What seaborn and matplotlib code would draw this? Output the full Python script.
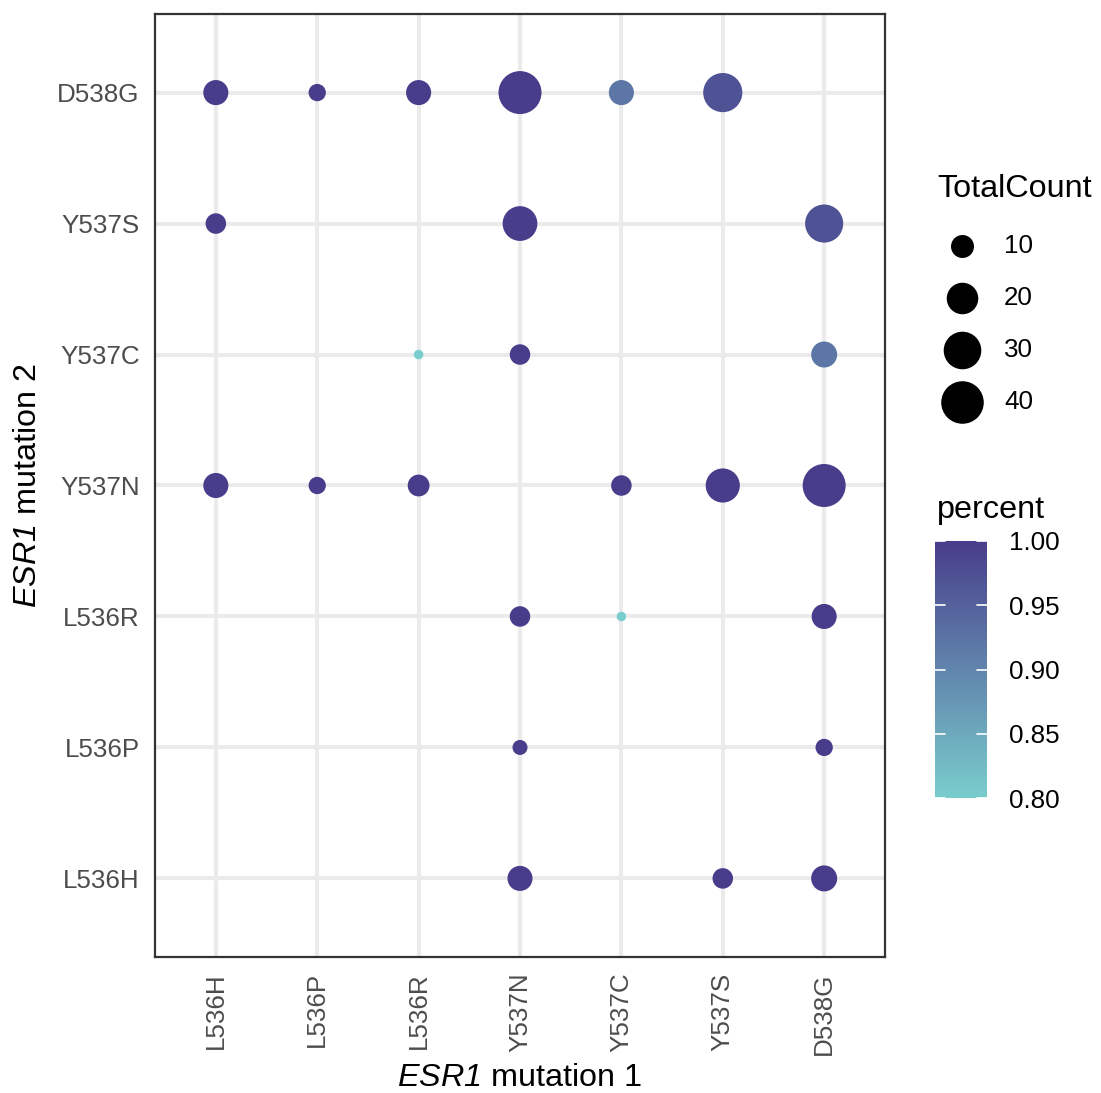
import numpy as np
import pandas as pd
import matplotlib
matplotlib.use("Agg")
import matplotlib.pyplot as plt
from matplotlib.colors import LinearSegmentedColormap, Normalize
from matplotlib.cm import ScalarMappable
from matplotlib.lines import Line2D
import seaborn as sns

# ---------------- data ----------------
categories = ["L536H", "L536P", "L536R", "Y537N", "Y537C", "Y537S", "D538G"]

mutation1 = ["L536H", "L536P", "L536R", "Y537N", "Y537C", "Y537S",
             "L536H", "Y537N", "D538G",
             "L536R", "Y537N", "D538G",
             "L536H", "L536P", "L536R", "Y537C", "Y537S", "D538G",
             "Y537N", "Y537C", "D538G",
             "Y537N", "D538G",
             "Y537N", "Y537S", "D538G"]
mutation2 = ["D538G"] * 6 + ["Y537S"] * 3 + ["Y537C"] * 3 + ["Y537N"] * 6 + \
            ["L536R"] * 3 + ["L536P"] * 2 + ["L536H"] * 3
total_count = [12, 6, 12, 41, 12, 33,
               8, 25, 31,
               4, 8, 13,
               12, 6, 9, 8, 24, 41,
               8, 4, 12,
               5, 6,
               12, 8, 13]
percent = [1.0, 1.0, 1.0, 1.0, 0.92, 0.97,
           1.0, 1.0, 0.97,
           0.80, 1.0, 0.92,
           1.0, 1.0, 1.0, 1.0, 1.0, 1.0,
           1.0, 0.80, 1.0,
           1.0, 1.0,
           1.0, 1.0, 1.0]
size_breaks = [10, 20, 30, 40]
color_breaks = [0.80, 0.85, 0.90, 0.95, 1.00]

df = pd.DataFrame({
    "m1": pd.Categorical(mutation1, categories=categories),
    "m2": pd.Categorical(mutation2, categories=categories),
    "TotalCount": total_count,
    "percent": percent,
})

# ---------------- styling ----------------
sns.set_style("white")
plt.rcParams["font.family"] = ["Liberation Sans", "DejaVu Sans"]
plt.rcParams["text.color"] = "black"
plt.rcParams["mathtext.fontset"] = "custom"
plt.rcParams["mathtext.it"] = "Liberation Sans:italic"
plt.rcParams["mathtext.rm"] = "Liberation Sans:italic"

DPI = 100
W, H = 1101, 1093
fig = plt.figure(figsize=(W / DPI, H / DPI), dpi=DPI)

def px(x0, y0, x1, y1):
    return [x0 / W, 1 - y1 / H, (x1 - x0) / W, (y1 - y0) / H]

ax = fig.add_axes(px(155, 14, 885, 957))

cmap = LinearSegmentedColormap.from_list("pc", ["#79CDCD", "#483D8B"])
cnorm = Normalize(0.80, 1.00)

vmin, vmax = min(total_count), max(total_count)
dmin_px, dmax_px = 9.5, 43.0

def diam_px(v):
    t = np.clip((v - vmin) / (vmax - vmin), 0, 1)
    return dmin_px + (dmax_px - dmin_px) * np.sqrt(t)

def area_pt2(v):
    return (diam_px(v) * 72 / DPI) ** 2

size_map = {v: float(area_pt2(v)) for v in sorted(set(total_count))}

sns.scatterplot(data=df, x="m1", y="m2", hue="percent", size="TotalCount",
                sizes=size_map, palette=cmap, hue_norm=cnorm,
                linewidth=0, legend=False, ax=ax, zorder=3)

ax.set_xlim(-0.6, 6.6)
ax.set_ylim(-0.6, 6.6)
ax.set_xticks(range(len(categories)))
ax.set_xticklabels(categories, rotation=90, fontsize=18.7, color="#4D4D4D")
ax.set_yticks(range(len(categories)))
ax.set_yticklabels(categories, fontsize=18.7, color="#4D4D4D")
ax.grid(True, color="#EBEBEB", linewidth=2.9, zorder=0)
ax.set_axisbelow(True)
for s in ax.spines.values():
    s.set_color("#333333")
    s.set_linewidth(1.6)
ax.tick_params(axis="both", length=6, width=1.8, color="#333333", pad=5)
ax.set_xlabel(r"$ESR1$ mutation 1", fontsize=23.3, color="black", labelpad=6)
ax.set_ylabel(r"$ESR1$ mutation 2", fontsize=23.3, color="black", labelpad=10)

# ---------------- size legend ----------------
fig.text(937 / W, 1 - 189 / H, "TotalCount", fontsize=23.3, va="center", ha="left",
         color="black")
for i, b in enumerate(size_breaks):
    yc = 246 + 52 * i
    fig.lines.append(Line2D([962 / W], [1 - yc / H], transform=fig.transFigure,
                            linestyle="none", marker="o", color="black",
                            markeredgewidth=0, markersize=diam_px(b) * 72 / DPI))
    fig.text(1004 / W, 1 - yc / H, str(b), fontsize=18.7, va="center", ha="left",
             color="black")

# ---------------- colorbar ----------------
fig.text(937 / W, 1 - 510 / H, "percent", fontsize=23.3, va="center", ha="left",
         color="black")
cax = fig.add_axes(px(935, 541, 987, 798))
cb = fig.colorbar(ScalarMappable(norm=cnorm, cmap=cmap), cax=cax, ticks=color_breaks)
cb.outline.set_visible(False)
cax.tick_params(length=0, pad=16, labelsize=18.7, labelcolor="black")
cax.set_yticklabels([f"{v:.2f}" for v in color_breaks])
for v in color_breaks:
    cax.axhline(v, xmin=0, xmax=0.2, color="white", linewidth=1.2)
    cax.axhline(v, xmin=0.8, xmax=1.0, color="white", linewidth=1.2)

fig.savefig("out.png", dpi=DPI)
